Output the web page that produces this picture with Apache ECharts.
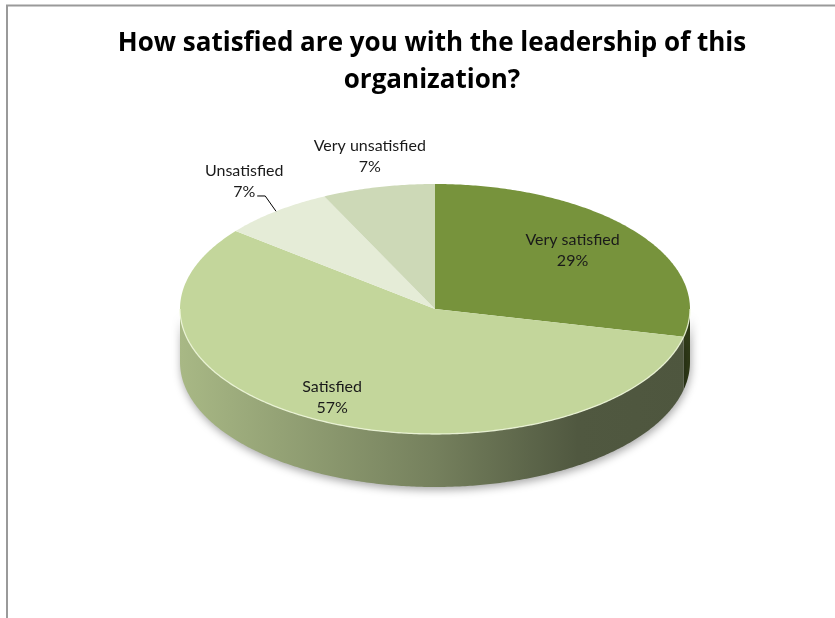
<!DOCTYPE html>
<html>
<head>
<meta charset="utf-8">
<script src="https://cdn.jsdelivr.net/npm/echarts@6/dist/echarts.min.js"></script>
<style>
  html, body { margin: 0; padding: 0; background: #ffffff; }
  #chart { width: 835px; height: 618px; }
</style>
</head>
<body>
<div id="chart"></div>
<script>
// Survey answers (number of respondents per answer)
const categories = ['Very satisfied', 'Satisfied', 'Unsatisfied', 'Very unsatisfied'];
const responses = [4, 8, 1, 1];
const sliceColors = ['#77933C', '#C3D69B', '#E5ECD7', '#CDD9B7'];

const titleText = 'How satisfied are you with the leadership of this\norganization?';

// Tilted pie geometry (top face ellipse + rim depth)
const pie = { cx: 435, cy: 309, rx: 255, ry: 125, depth: 53 };

// Label anchors as fractions of the radii along each slice's mid-angle
const labelSpots = [
  { fx: 0.69, fy: 0.75 },
  { fx: 0.93, fy: 0.78 },
  { fx: 1.20, fy: 1.31, leader: true },
  { fx: 1.15, fy: 1.25 }
];

const total = responses.reduce((a, b) => a + b, 0);
const starts = [];
responses.reduce((acc, v, i) => { starts[i] = acc; return acc + v; }, 0);

function angleOf(v) { return v / total * Math.PI * 2; }
function rimPoint(t, dy) {
  return [pie.cx + pie.rx * Math.sin(t), pie.cy - pie.ry * Math.cos(t) + (dy || 0)];
}
function arc(t0, t1, dy) {
  const pts = [];
  const n = Math.max(4, Math.ceil(Math.abs(t1 - t0) / 0.01));
  for (let k = 0; k <= n; k++) pts.push(rimPoint(t0 + (t1 - t0) * k / n, dy));
  return pts;
}
function shade(hex, f) {
  const n = parseInt(hex.slice(1), 16);
  const c = [(n >> 16) & 255, (n >> 8) & 255, n & 255].map(x => Math.round(x * f));
  return 'rgb(' + c.join(',') + ')';
}

// Front wall of each slice (only the half facing the viewer)
function renderSide(params, api) {
  const i = params.dataIndex;
  const a0 = angleOf(starts[i]);
  const a1 = angleOf(starts[i] + api.value(0));
  const s0 = Math.max(a0, Math.PI / 2);
  const s1 = Math.min(a1, Math.PI * 3 / 2);
  if (s1 <= s0) return null;
  const pts = arc(s0, s1, 0).concat(arc(s1, s0, pie.depth));
  const base = sliceColors[i];
  return {
    type: 'polygon',
    shape: { points: pts },
    style: {
      fill: new echarts.graphic.LinearGradient(pie.cx - pie.rx, 0, pie.cx + pie.rx, 0, [
        { offset: 0, color: shade(base, 0.86) },
        { offset: 0.5, color: shade(base, 0.6) },
        { offset: 0.78, color: shade(base, 0.41) },
        { offset: 1, color: shade(base, 0.4) }
      ], true),
      shadowColor: 'rgba(0,0,0,0.35)',
      shadowBlur: 8,
      shadowOffsetX: 1,
      shadowOffsetY: 3
    }
  };
}

// Top face of each slice, with its label
function renderTop(params, api) {
  const i = params.dataIndex;
  const v = api.value(0);
  const a0 = angleOf(starts[i]);
  const a1 = angleOf(starts[i] + v);
  const mid = (a0 + a1) / 2;
  const children = [{
    type: 'polygon',
    shape: { points: [[pie.cx, pie.cy]].concat(arc(a0, a1, 0)) },
    style: { fill: sliceColors[i] }
  }];
  // light rim edge on the front
  const s0 = Math.max(a0, Math.PI / 2);
  const s1 = Math.min(a1, Math.PI * 3 / 2);
  if (s1 > s0) {
    children.push({
      type: 'polyline',
      shape: { points: arc(s0, s1, 0) },
      style: { stroke: 'rgba(240,248,220,0.85)', lineWidth: 1.3, fill: null }
    });
  }
  const spot = labelSpots[i];
  const lx = pie.cx + spot.fx * pie.rx * Math.sin(mid);
  const ly = pie.cy - spot.fy * pie.ry * Math.cos(mid);
  const pct = Math.round(v / total * 100) + '%';
  children.push({
    type: 'text',
    x: lx,
    y: ly,
    style: {
      text: categories[i] + '\n' + pct,
      align: 'center',
      verticalAlign: 'middle',
      fill: '#1a1a1a',
      font: '16px Lato',
      lineHeight: 21
    }
  });
  if (spot.leader) {
    const end = rimPoint(mid, 0);
    children.push({
      type: 'polyline',
      shape: { points: [[lx + 13, ly + 15], [lx + 21, ly + 15], end] },
      style: { stroke: '#000', lineWidth: 1, fill: null }
    });
  }
  return { type: 'group', children: children };
}

const chart = echarts.init(document.getElementById('chart'), null, { renderer: 'canvas' });
chart.setOption({
  backgroundColor: '#ffffff',
  animation: false,
  title: {
    text: titleText,
    left: 427,
    top: 20,
    textAlign: 'center',
    textStyle: {
      fontFamily: 'Open Sans',
      fontWeight: 'bold',
      fontSize: 26,
      lineHeight: 37,
      color: '#000000'
    }
  },
  graphic: [{
    type: 'polyline',
    shape: { points: [[7, 700], [7, 5.5], [900, 5.5]] },
    style: { stroke: '#9a9a9a', lineWidth: 2, fill: null },
    silent: true
  }],
  series: [
    {
      type: 'custom',
      coordinateSystem: 'none',
      z: 1,
      renderItem: renderSide,
      data: responses
    },
    {
      type: 'custom',
      coordinateSystem: 'none',
      z: 2,
      renderItem: renderTop,
      data: responses
    }
  ]
});
</script>
</body>
</html>
